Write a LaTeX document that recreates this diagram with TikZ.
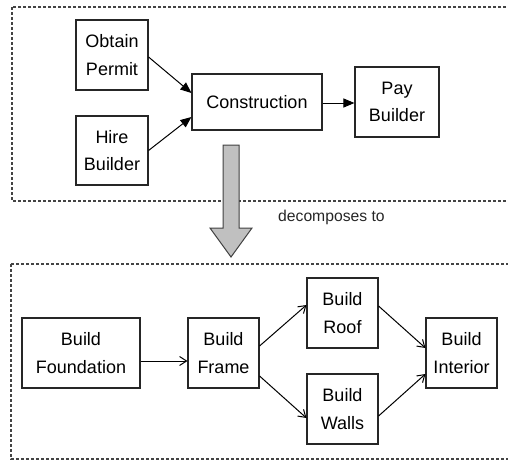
\documentclass[tikz,border=0pt]{standalone}
\usepackage{fontspec}
\setmainfont{Liberation Sans}
\usetikzlibrary{arrows.meta}
\definecolor{frameline}{HTML}{444444}
\definecolor{bigarrow}{HTML}{C0C0C0}
\tikzset{
  task/.style={draw=black!85, line width=1.1pt, inner sep=0pt, align=center,
    font=\fontsize{18}{27.5}\selectfont},
  group/.style={draw=frameline, line width=1.1pt, dash pattern=on 2.6pt off 2.4pt},
  flowfilled/.style={line width=1pt, -{Triangle[length=11pt,width=9pt]}},
  flowopen/.style={line width=1pt, -{Straight Barb[length=7pt,width=9pt,line width=1pt]}},
}
\begin{document}
\begin{tikzpicture}[x=1pt,y=-1pt]
  \useasboundingbox (0,0) rectangle (508,460);
  \clip (0,0) rectangle (508,460);

  % dotted group frames (right sides run past the edge)
  \draw[group] (12,7) rectangle (540,201);
  \draw[group] (11,264) rectangle (540,459);

  % upper level
  \node[task, minimum width=72pt, minimum height=70pt] (obtain) at (112,55) {Obtain\\Permit};
  \node[task, minimum width=72pt, minimum height=69pt] (hire) at (112,150.5) {Hire\\Builder};
  \node[task, minimum width=130pt, minimum height=56pt] (constr) at (257,102) {Construction};
  \node[task, minimum width=84pt, minimum height=70pt] (pay) at (397,102) {Pay\\Builder};

  \draw[flowfilled] ([yshift=-2pt]obtain.east) -- ([yshift=9pt]constr.west);
  \draw[flowfilled] (hire.east) -- ([yshift=-15pt]constr.west);
  \draw[flowfilled] ([yshift=-1pt]constr.east) -- ([yshift=-1pt]pay.west);

  % decomposition arrow
  \draw[draw=black!75, fill=bigarrow, line width=1pt, line join=miter]
    (223,145) -- (239,145) -- (239,228) -- (252,228) -- (231,257)
    -- (210,228) -- (223,228) -- cycle;
  \node[anchor=base west, inner sep=0pt, text=black!85,
    font=\fontsize{15.7}{18}\selectfont] (dec) at (278,221.7) {decomposes to};

  % lower level
  \node[task, minimum width=118pt, minimum height=70pt] (found) at (81,353) {Build\\Foundation};
  \node[task, minimum width=71pt, minimum height=70pt] (frame) at (223.5,353) {Build\\Frame};
  \node[task, minimum width=71pt, minimum height=70pt] (roof) at (342.5,313) {Build\\Roof};
  \node[task, minimum width=71pt, minimum height=70pt] (walls) at (342.5,409) {Build\\Walls};
  \node[task, minimum width=71pt, minimum height=70pt] (interior) at (461.5,353) {Build\\Interior};

  \draw[flowopen] ([yshift=-8pt]found.east) -- ([yshift=-8pt]frame.west);
  \draw[flowopen] ([yshift=7pt]frame.east) -- ([yshift=8pt]roof.west);
  \draw[flowopen] ([yshift=-23pt]frame.east) -- ([yshift=-9pt]walls.west);
  \draw[flowopen] ([yshift=7pt]roof.east) -- ([yshift=5pt]interior.west);
  \draw[flowopen] ([yshift=-7pt]walls.east) -- ([yshift=-21pt]interior.west);
\end{tikzpicture}
\end{document}
